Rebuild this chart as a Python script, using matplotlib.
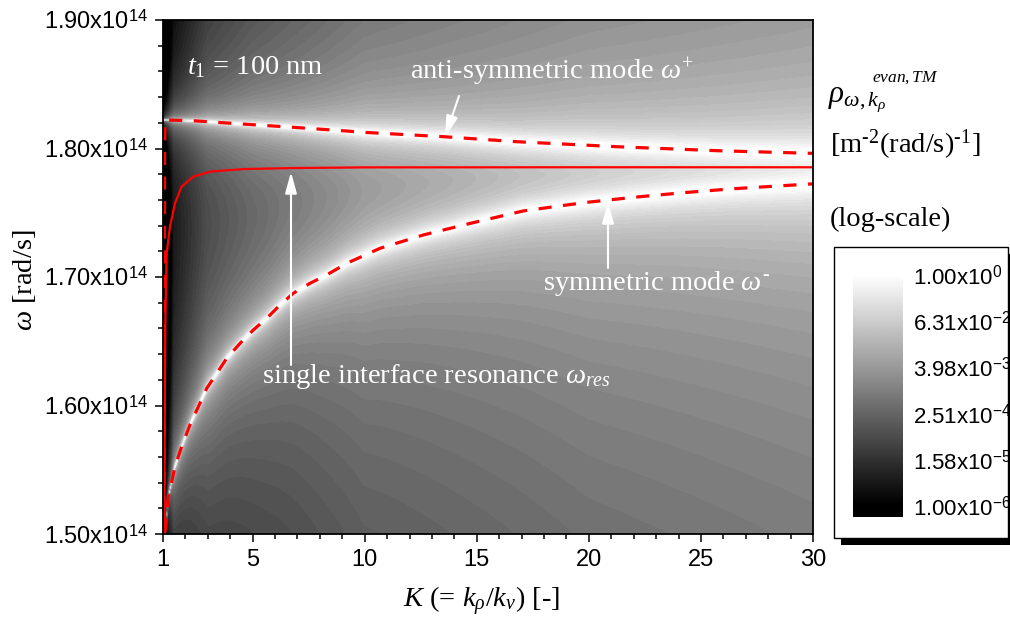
import numpy as np
import matplotlib
matplotlib.use('Agg')
import matplotlib.pyplot as plt
from matplotlib.patches import Rectangle
from matplotlib.ticker import MultipleLocator, FixedLocator

plt.rcParams['font.family'] = 'Liberation Sans'
plt.rcParams['mathtext.fontset'] = 'custom'
plt.rcParams['mathtext.rm'] = 'Liberation Serif'
plt.rcParams['mathtext.it'] = 'Liberation Serif:italic'
plt.rcParams['mathtext.bf'] = 'Liberation Serif:bold'
plt.rcParams['mathtext.sf'] = 'Liberation Sans'

# K = k_rho / k_v, omega in 1e14 rad/s
res_K = [1.06, 1.08, 1.10, 1.13, 1.165, 1.31, 1.535, 1.83, 2.35, 3.10, 4.58, 6.81, 10.0, 20.0, 30.0]
res_w = [1.500, 1.600, 1.660, 1.690, 1.7184, 1.7391, 1.7573, 1.7703, 1.7781, 1.7820, 1.7840, 1.7848, 1.7853, 1.7854, 1.7854]

sym_K = [1.09, 1.24, 1.535, 1.83, 2.20, 2.575, 2.95, 3.40, 3.84, 4.44, 5.03, 5.63, 6.22, 6.81, 7.56, 8.30,
         9.20, 10.68, 12.61, 14.84, 17.07, 19.75, 21.98, 24.21, 26.44, 30.0]
sym_w = [1.5018, 1.529, 1.5524, 1.568, 1.5848, 1.599, 1.6134, 1.625, 1.6367, 1.6484, 1.6588, 1.6679, 1.6782,
         1.6873, 1.6951, 1.7016, 1.7107, 1.7223, 1.7327, 1.7423, 1.7514, 1.7578, 1.762, 1.7656, 1.7687, 1.7725]

asym_K = [1.05, 1.06, 1.07, 1.09, 2.35, 4.58, 6.81, 9.20, 9.94, 13.51, 16.78, 21.24, 25.70, 30.0]
asym_w = [1.500, 1.700, 1.800, 1.8222, 1.8216, 1.8190, 1.8165, 1.8136, 1.8126, 1.8092, 1.8053, 1.8014, 1.7983, 1.7962]

# half-widths of the bright bands (1e14 rad/s)
band_K = [1.0, 1.5, 3.0, 5.0, 10.0, 20.0, 30.0]
band_sym = [1e-5, 0.0003, 0.0008, 0.0011, 0.0024, 0.0043, 0.006]
band_asym = [1e-5, 0.0001, 0.0004, 0.0008, 0.0021, 0.004, 0.0055]

cbar_exp = [0, -1.2, -2.4, -3.6, -4.8, -6]
cbar_txt = ['1.00x10$^{\\mathsf{0}}$', '6.31x10$^{\\mathsf{-2}}$', '3.98x10$^{\\mathsf{-3}}$',
            '2.51x10$^{\\mathsf{-4}}$', '1.58x10$^{\\mathsf{-5}}$', '1.00x10$^{\\mathsf{-6}}$']

yticks = [1.5, 1.6, 1.7, 1.8, 1.9]
ytick_txt = ['1.50x10$^{\\mathsf{14}}$', '1.60x10$^{\\mathsf{14}}$', '1.70x10$^{\\mathsf{14}}$',
             '1.80x10$^{\\mathsf{14}}$', '1.90x10$^{\\mathsf{14}}$']
xticks = [1, 5, 10, 15, 20, 25, 30]

# density map built around the two film modes
kk = np.linspace(1, 30, 700)
ww = np.linspace(1.5, 1.9, 500)
KK, WW = np.meshgrid(kk, ww)
ws = np.interp(KK, sym_K, sym_w)
wa = np.interp(KK, asym_K[3:], asym_w[3:])
gs = np.exp(np.interp(KK, band_K, np.log(band_sym)))
ga = np.exp(np.interp(KK, band_K, np.log(band_asym)))
rho = 1 / (1 + ((WW - ws) / gs) ** 2) + 1 / (1 + ((WW - wa) / ga) ** 2)
logrho = np.log10(np.clip(rho, 1e-6, 1))

W, H = 1010, 627
fig = plt.figure(figsize=(W / 100, H / 100), dpi=100)
ax = fig.add_axes([163 / W, 1 - 534 / H, 650 / W, 514 / H])

ax.contourf(KK, WW, logrho, levels=np.linspace(-6, 0, 49), cmap='gray', vmin=-6, vmax=0)

red = '#ff0000'
ax.plot(res_K, res_w, color=red, lw=1.6)
ax.plot(sym_K, sym_w, color=red, lw=2.3, dashes=(4.1, 3.6))
ax.plot(asym_K, asym_w, color=red, lw=2.3, dashes=(4.1, 3.6))

ax.set_xlim(1, 30)
ax.set_ylim(1.5, 1.9)
ax.xaxis.set_major_locator(FixedLocator(xticks))
ax.xaxis.set_minor_locator(MultipleLocator(1))
ax.yaxis.set_major_locator(FixedLocator(yticks))
ax.yaxis.set_minor_locator(MultipleLocator(0.02))
ax.set_yticklabels(ytick_txt)
ax.set_xticklabels([str(t) for t in xticks])
ax.tick_params(which='both', direction='out', width=1.1, labelsize=17, top=False, right=False)
ax.tick_params(which='major', length=6, pad=5)
ax.tick_params(which='minor', length=3.5)
for s in ax.spines.values():
    s.set_linewidth(1.3)

serif = 'Liberation Serif'
fs = 20.5

def px(x, y):
    # pixel position -> data coordinates
    return 1 + (x - 163) / 650 * 29, 1.5 + (534 - y) / 514 * 0.4

ax.text(*px(187, 74), '$t_{1}$ = 100 nm', color='white', family=serif, fontsize=fs, va='baseline')
ax.text(*px(410, 80), 'anti-symmetric mode $\\omega^{+}$', color='white', family=serif, fontsize=fs, va='baseline')
ax.text(*px(543, 290), 'symmetric mode $\\omega^{\\text{-}}$', color='white', family=serif, fontsize=fs, va='baseline')
ax.text(*px(262, 383), 'single interface resonance $\\omega_{res}$', color='white', family=serif, fontsize=fs,
        va='baseline')

arw = dict(arrowstyle='-|>,head_length=0.8,head_width=0.22', color='white', lw=1.5,
           mutation_scale=16, shrinkA=0, shrinkB=0)
ax.annotate('', xy=px(445, 137), xytext=px(459, 96), arrowprops=arw)
ax.annotate('', xy=px(608, 202), xytext=px(608, 268), arrowprops=arw)
ax.annotate('', xy=px(291, 172), xytext=px(291, 365), arrowprops=arw)

fig.text(482 / W, 1 - 601 / H, '$K$ (= $k_{\\rho}$/$k_{v}$) [-]', family=serif, fontsize=fs,
         ha='center', va='center')
fig.text(24 / W, 1 - 280 / H, '$\\omega$ [rad/s]', family=serif, fontsize=fs, rotation=90,
         ha='center', va='center')

# colour scale legend on the right
fig.text(828 / W, 1 - 102 / H, '$\\rho_{\\omega,k_{\\rho}}$', family=serif, fontsize=fs + 2, va='baseline')
fig.text(872 / W, 1 - 82 / H, '$evan,TM$', family=serif, fontsize=12.5, va='baseline')
fig.text(830 / W, 1 - 145 / H, '[m$^{\\text{-}2}$(rad/s)$^{\\text{-}1}$]', family=serif, fontsize=fs, va='center')
fig.text(830 / W, 1 - 219 / H, '(log-scale)', family=serif, fontsize=fs, va='center')

fig.add_artist(Rectangle((841 / W, 1 - 545 / H), (W - 841) / W, (545 - 254) / H, transform=fig.transFigure,
                         facecolor='black', edgecolor='none', zorder=-2))
fig.add_artist(Rectangle((834 / W, 1 - 538 / H), 174 / W, 291 / H, transform=fig.transFigure,
                         facecolor='white', edgecolor='black', lw=1, zorder=-1))

cax = fig.add_axes([853 / W, 1 - 517 / H, 50 / W, 252 / H])
cax.imshow(np.linspace(-6.3, 0.26, 256)[:, None], aspect='auto', cmap='gray', vmin=-6, vmax=0,
           origin='lower', extent=[0, 1, -6.3, 0.26])
cax.set_xticks([])
cax.yaxis.tick_right()
cax.set_yticks(cbar_exp)
cax.set_yticklabels(cbar_txt)
cax.tick_params(length=0, pad=7, labelsize=16)
for s in cax.spines.values():
    s.set_visible(False)

fig.savefig('out.png', dpi=100)
